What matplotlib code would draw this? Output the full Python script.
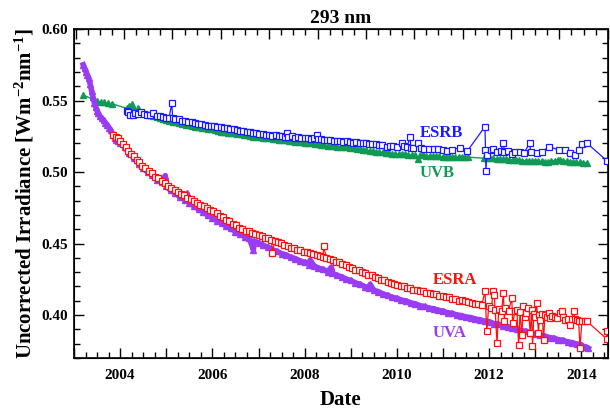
import matplotlib
matplotlib.use('Agg')
import matplotlib.pyplot as plt
from matplotlib.ticker import MultipleLocator, FuncFormatter

# UVA channel (purple triangles)
uva_year = [2003.20, 2003.23, 2003.26, 2003.29, 2003.32, 2003.35, 2003.38, 2003.41, 2003.44, 2003.47,
            2003.50, 2003.53, 2003.56, 2003.60, 2003.64, 2003.68, 2003.72, 2003.76, 2003.80, 2003.84,
            2003.88, 2003.92, 2003.96, 2004.0, 2004.1, 2004.2, 2004.3, 2004.4, 2004.5, 2004.6,
            2004.7, 2004.8, 2004.9, 2004.98, 2005.0, 2005.1, 2005.2, 2005.3, 2005.4, 2005.45,
            2005.5, 2005.6, 2005.7, 2005.8, 2005.9, 2006.0, 2006.1, 2006.2, 2006.3, 2006.4,
            2006.5, 2006.6, 2006.7, 2006.8, 2006.89, 2006.9, 2007.0, 2007.1, 2007.2, 2007.3,
            2007.4, 2007.5, 2007.6, 2007.7, 2007.8, 2007.9, 2008.0, 2008.1, 2008.12, 2008.2,
            2008.3, 2008.4, 2008.5, 2008.58, 2008.6, 2008.7, 2008.8, 2008.9, 2009.0, 2009.1,
            2009.2, 2009.3, 2009.4, 2009.42, 2009.5, 2009.6, 2009.7, 2009.8, 2009.9, 2010.0,
            2010.1, 2010.2, 2010.3, 2010.4, 2010.5, 2010.6, 2010.7, 2010.8, 2010.9, 2011.0,
            2011.1, 2011.2, 2011.3, 2011.4, 2011.5, 2011.6, 2011.7, 2011.8, 2011.9, 2012.0,
            2012.1, 2012.2, 2012.3, 2012.4, 2012.5, 2012.6, 2012.7, 2012.8, 2012.9, 2013.0,
            2013.1, 2013.2, 2013.3, 2013.4, 2013.5, 2013.6, 2013.7, 2013.8, 2013.9, 2014.0,
            2014.05, 2014.1, 2014.15]
uva_val = [0.5750, 0.5725, 0.5700, 0.5680, 0.5655, 0.5615, 0.5570, 0.5525, 0.5485, 0.5455,
           0.5430, 0.5410, 0.5392, 0.5375, 0.5362, 0.5345, 0.5330, 0.5310, 0.5292, 0.5262,
           0.5240, 0.5222, 0.5215, 0.5205, 0.5172, 0.5131, 0.5099, 0.5058, 0.5027, 0.4998,
           0.4979, 0.4946, 0.4930, 0.4975, 0.4899, 0.4871, 0.4852, 0.4824, 0.4807, 0.4850,
           0.4781, 0.4765, 0.4739, 0.4723, 0.4698, 0.4682, 0.4658, 0.4645, 0.4621, 0.4606,
           0.4583, 0.4568, 0.4547, 0.4536, 0.4456, 0.4517, 0.4506, 0.4487, 0.4476, 0.4457,
           0.4446, 0.4429, 0.4420, 0.4404, 0.4395, 0.4378, 0.4370, 0.4353, 0.4385, 0.4345,
           0.4328, 0.4320, 0.4303, 0.4335, 0.4294, 0.4277, 0.4268, 0.4251, 0.4242, 0.4225,
           0.4216, 0.4199, 0.4190, 0.4215, 0.4173, 0.4164, 0.4147, 0.4138, 0.4123, 0.4118,
           0.4104, 0.4099, 0.4085, 0.4079, 0.4066, 0.4060, 0.4048, 0.4044, 0.4032, 0.4028,
           0.4016, 0.4012, 0.4000, 0.3997, 0.3986, 0.3983, 0.3972, 0.3968, 0.3957, 0.3954,
           0.3941, 0.3937, 0.3924, 0.3920, 0.3908, 0.3903, 0.3891, 0.3887, 0.3874, 0.3870,
           0.3858, 0.3855, 0.3843, 0.3839, 0.3828, 0.3824, 0.3812, 0.3808, 0.3796, 0.3792,
           0.3780, 0.3776, 0.3768]

# ESRA channel (red open squares)
esra_year = [2003.85, 2003.90, 2003.95, 2004.00, 2004.06, 2004.12, 2004.18, 2004.24, 2004.30, 2004.36,
             2004.42, 2004.48, 2004.55, 2004.62, 2004.69, 2004.76, 2004.83, 2004.90, 2004.97, 2005.04,
             2005.11, 2005.18, 2005.25, 2005.32, 2005.39, 2005.46, 2005.53, 2005.60, 2005.67, 2005.74,
             2005.81, 2005.88, 2005.95, 2006.02, 2006.09, 2006.16, 2006.23, 2006.30, 2006.37, 2006.44,
             2006.51, 2006.58, 2006.65, 2006.72, 2006.79, 2006.86, 2006.93, 2007.00, 2007.07, 2007.14,
             2007.21, 2007.28, 2007.30, 2007.35, 2007.42, 2007.49, 2007.56, 2007.63, 2007.70, 2007.77,
             2007.84, 2007.91, 2007.98, 2008.05, 2008.12, 2008.19, 2008.26, 2008.33, 2008.40, 2008.41,
             2008.47, 2008.54, 2008.61, 2008.68, 2008.75, 2008.82, 2008.89, 2008.96, 2009.03, 2009.10,
             2009.17, 2009.24, 2009.31, 2009.38, 2009.45, 2009.52, 2009.59, 2009.66, 2009.73, 2009.80,
             2009.87, 2009.94, 2010.01, 2010.08, 2010.15, 2010.22, 2010.29, 2010.36, 2010.43, 2010.50,
             2010.57, 2010.64, 2010.71, 2010.78, 2010.85, 2010.92, 2010.99, 2011.06, 2011.13, 2011.20,
             2011.27, 2011.34, 2011.41, 2011.48, 2011.55, 2011.62, 2011.69, 2011.76, 2011.84, 2011.91,
             2011.95, 2011.99, 2012.05, 2012.09, 2012.11, 2012.13, 2012.17, 2012.21, 2012.27, 2012.31,
             2012.33, 2012.35, 2012.42, 2012.49, 2012.51, 2012.56, 2012.60, 2012.64, 2012.67, 2012.71,
             2012.74, 2012.78, 2012.81, 2012.85, 2012.89, 2012.92, 2012.94, 2012.97, 2012.99, 2013.03,
             2013.07, 2013.09, 2013.11, 2013.15, 2013.18, 2013.21, 2013.25, 2013.29, 2013.32, 2013.37,
             2013.43, 2013.48, 2013.54, 2013.57, 2013.61, 2013.65, 2013.70, 2013.76, 2013.80, 2013.83,
             2013.87, 2013.90, 2013.94, 2013.97, 2014.01, 2014.08, 2014.12, 2014.55, 2014.55]
esra_val = [0.5258, 0.5245, 0.5236, 0.5218, 0.5195, 0.5172, 0.5150, 0.5128, 0.5112, 0.5085,
            0.5070, 0.5042, 0.5030, 0.5008, 0.4995, 0.4968, 0.4958, 0.4935, 0.4925, 0.4902,
            0.4890, 0.4872, 0.4862, 0.4845, 0.4838, 0.4818, 0.4810, 0.4795, 0.4782, 0.4771,
            0.4760, 0.4749, 0.4736, 0.4725, 0.4714, 0.4696, 0.4684, 0.4668, 0.4657, 0.4640,
            0.4630, 0.4612, 0.4601, 0.4589, 0.4586, 0.4575, 0.4570, 0.4558, 0.4552, 0.4541,
            0.4536, 0.4524, 0.4435, 0.4520, 0.4510, 0.4504, 0.4492, 0.4484, 0.4470, 0.4466,
            0.4455, 0.4452, 0.4440, 0.4438, 0.4432, 0.4428, 0.4418, 0.4416, 0.4406, 0.4484,
            0.4402, 0.4390, 0.4384, 0.4372, 0.4368, 0.4354, 0.4349, 0.4335, 0.4330, 0.4318,
            0.4314, 0.4300, 0.4296, 0.4283, 0.4278, 0.4264, 0.4260, 0.4246, 0.4242, 0.4228,
            0.4226, 0.4214, 0.4212, 0.4202, 0.4200, 0.4190, 0.4188, 0.4178, 0.4176, 0.4167,
            0.4166, 0.4155, 0.4156, 0.4145, 0.4146, 0.4134, 0.4136, 0.4124, 0.4124, 0.4112,
            0.4113, 0.4100, 0.4102, 0.4095, 0.4090, 0.4084, 0.4080, 0.4075, 0.4070, 0.4165,
            0.3886, 0.4060, 0.4052, 0.4165, 0.4142, 0.4037, 0.3805, 0.4045, 0.4030, 0.4154,
            0.3956, 0.4049, 0.4028, 0.4119, 0.3944, 0.4025, 0.4037, 0.3793, 0.4020, 0.3863,
            0.4060, 0.3990, 0.4015, 0.4049, 0.3875, 0.4037, 0.3781, 0.4005, 0.3990, 0.4084,
            0.3875, 0.4000, 0.3968, 0.4010, 0.3828, 0.4002, 0.3985, 0.4014, 0.3979, 0.3995,
            0.3990, 0.3982, 0.4014, 0.4025, 0.3985, 0.3968, 0.3975, 0.3933, 0.3975, 0.4025,
            0.3970, 0.3968, 0.3956, 0.3770, 0.3956, 0.3956, 0.3956, 0.3833, 0.3886]

# ESRB channel (blue open squares)
esrb_year = [2004.14, 2004.18, 2004.22, 2004.27, 2004.32, 2004.38, 2004.45, 2004.52, 2004.58, 2004.65,
             2004.72, 2004.79, 2004.86, 2004.93, 2005.00, 2005.06, 2005.12, 2005.14, 2005.20, 2005.27,
             2005.34, 2005.41, 2005.48, 2005.55, 2005.62, 2005.69, 2005.76, 2005.83, 2005.90, 2005.97,
             2006.04, 2006.11, 2006.18, 2006.25, 2006.32, 2006.39, 2006.46, 2006.53, 2006.60, 2006.67,
             2006.74, 2006.81, 2006.88, 2006.95, 2007.02, 2007.09, 2007.16, 2007.23, 2007.30, 2007.37,
             2007.44, 2007.51, 2007.58, 2007.61, 2007.65, 2007.72, 2007.79, 2007.86, 2007.93, 2008.00,
             2008.07, 2008.14, 2008.21, 2008.26, 2008.28, 2008.35, 2008.42, 2008.49, 2008.56, 2008.63,
             2008.70, 2008.77, 2008.84, 2008.91, 2008.98, 2009.05, 2009.12, 2009.19, 2009.26, 2009.33,
             2009.40, 2009.47, 2009.54, 2009.61, 2009.68, 2009.78, 2009.85, 2009.92, 2010.00, 2010.11,
             2010.16, 2010.22, 2010.29, 2010.30, 2010.35, 2010.45, 2010.52, 2010.58, 2010.70, 2010.80,
             2010.90, 2011.00, 2011.08, 2011.20, 2011.37, 2011.53, 2011.91, 2011.92, 2011.93, 2011.95,
             2012.05, 2012.09, 2012.17, 2012.25, 2012.31, 2012.33, 2012.40, 2012.49, 2012.56, 2012.66,
             2012.76, 2012.88, 2012.90, 2013.03, 2013.15, 2013.29, 2013.51, 2013.65, 2013.76, 2013.87,
             2013.94, 2014.02, 2014.12, 2014.55]
esrb_val = [0.5425, 0.5418, 0.5400, 0.5398, 0.5412, 0.5408, 0.5418, 0.5405, 0.5398, 0.5400,
            0.5411, 0.5392, 0.5394, 0.5385, 0.5380, 0.5378, 0.5481, 0.5380, 0.5372, 0.5368,
            0.5360, 0.5355, 0.5352, 0.5350, 0.5342, 0.5338, 0.5333, 0.5330, 0.5325, 0.5322,
            0.5320, 0.5315, 0.5313, 0.5310, 0.5305, 0.5302, 0.5298, 0.5295, 0.5288, 0.5285,
            0.5280, 0.5278, 0.5271, 0.5272, 0.5265, 0.5268, 0.5262, 0.5258, 0.5255, 0.5262,
            0.5250, 0.5252, 0.5248, 0.5270, 0.5245, 0.5250, 0.5240, 0.5242, 0.5238, 0.5235,
            0.5240, 0.5232, 0.5235, 0.5260, 0.5230, 0.5228, 0.5225, 0.5222, 0.5224, 0.5218,
            0.5220, 0.5215, 0.5212, 0.5214, 0.5208, 0.5205, 0.5210, 0.5203, 0.5200, 0.5205,
            0.5198, 0.5195, 0.5199, 0.5192, 0.5190, 0.5178, 0.5185, 0.5182, 0.5175, 0.5206,
            0.5185, 0.5175, 0.5248, 0.5170, 0.5167, 0.5202, 0.5170, 0.5160, 0.5162, 0.5158,
            0.5160, 0.5152, 0.5148, 0.5155, 0.5171, 0.5148, 0.5318, 0.5152, 0.5010, 0.5120,
            0.5155, 0.5162, 0.5139, 0.5150, 0.5206, 0.5143, 0.5150, 0.5127, 0.5140, 0.5138,
            0.5135, 0.5202, 0.5140, 0.5136, 0.5140, 0.5178, 0.5155, 0.5152, 0.5132, 0.5120,
            0.5155, 0.5195, 0.5202, 0.5080]

# UVB channel (green triangles)
uvb_year = [2003.20, 2003.50, 2003.58, 2003.66, 2003.74, 2003.82, 2004.14, 2004.20, 2004.25, 2004.29,
            2004.33, 2004.38, 2004.44, 2004.51, 2004.58, 2004.65, 2004.72, 2004.79, 2004.86, 2004.93,
            2005.00, 2005.07, 2005.14, 2005.21, 2005.28, 2005.35, 2005.42, 2005.49, 2005.56, 2005.63,
            2005.70, 2005.77, 2005.84, 2005.91, 2005.98, 2006.05, 2006.12, 2006.19, 2006.26, 2006.33,
            2006.40, 2006.47, 2006.54, 2006.61, 2006.68, 2006.75, 2006.82, 2006.89, 2006.96, 2007.03,
            2007.10, 2007.17, 2007.24, 2007.31, 2007.38, 2007.45, 2007.52, 2007.59, 2007.66, 2007.73,
            2007.80, 2007.87, 2007.94, 2008.01, 2008.08, 2008.15, 2008.22, 2008.29, 2008.36, 2008.43,
            2008.50, 2008.57, 2008.64, 2008.71, 2008.78, 2008.85, 2008.92, 2008.99, 2009.06, 2009.13,
            2009.20, 2009.27, 2009.34, 2009.41, 2009.48, 2009.55, 2009.62, 2009.69, 2009.76, 2009.83,
            2009.90, 2009.97, 2010.04, 2010.11, 2010.18, 2010.25, 2010.32, 2010.39, 2010.45, 2010.50,
            2010.57, 2010.64, 2010.71, 2010.78, 2010.85, 2010.92, 2010.99, 2011.06, 2011.13, 2011.20,
            2011.27, 2011.34, 2011.41, 2011.48, 2011.55, 2011.88, 2011.95, 2012.02, 2012.09, 2012.16,
            2012.23, 2012.30, 2012.37, 2012.44, 2012.51, 2012.58, 2012.65, 2012.72, 2012.79, 2012.86,
            2012.93, 2013.00, 2013.07, 2013.14, 2013.21, 2013.28, 2013.35, 2013.42, 2013.49, 2013.54,
            2013.61, 2013.68, 2013.75, 2013.82, 2013.89, 2013.96, 2014.03, 2014.12]
uvb_val = [0.5539, 0.5495, 0.5490, 0.5487, 0.5482, 0.5478, 0.5446, 0.5460, 0.5478, 0.5440,
           0.5435, 0.5445, 0.5420, 0.5412, 0.5405, 0.5398, 0.5392, 0.5385, 0.5378, 0.5372,
           0.5365, 0.5360, 0.5352, 0.5348, 0.5342, 0.5337, 0.5331, 0.5328, 0.5322, 0.5318,
           0.5314, 0.5310, 0.5306, 0.5301, 0.5298, 0.5292, 0.5288, 0.5283, 0.5279, 0.5276,
           0.5272, 0.5270, 0.5266, 0.5263, 0.5259, 0.5256, 0.5252, 0.5248, 0.5245, 0.5243,
           0.5240, 0.5237, 0.5235, 0.5232, 0.5229, 0.5227, 0.5224, 0.5221, 0.5218, 0.5216,
           0.5213, 0.5211, 0.5208, 0.5205, 0.5202, 0.5200, 0.5196, 0.5193, 0.5190, 0.5188,
           0.5185, 0.5183, 0.5181, 0.5178, 0.5176, 0.5174, 0.5172, 0.5169, 0.5167, 0.5164,
           0.5160, 0.5157, 0.5153, 0.5150, 0.5146, 0.5143, 0.5140, 0.5137, 0.5133, 0.5130,
           0.5128, 0.5127, 0.5125, 0.5124, 0.5123, 0.5122, 0.5120, 0.5119, 0.5090, 0.5118,
           0.5116, 0.5115, 0.5113, 0.5112, 0.5110, 0.5109, 0.5107, 0.5105, 0.5105, 0.5104,
           0.5104, 0.5103, 0.5104, 0.5103, 0.5104, 0.5097, 0.5098, 0.5096, 0.5095, 0.5093,
           0.5092, 0.5090, 0.5088, 0.5087, 0.5085, 0.5083, 0.5082, 0.5080, 0.5079, 0.5078,
           0.5077, 0.5076, 0.5075, 0.5074, 0.5073, 0.5073, 0.5076, 0.5080, 0.5084, 0.5087,
           0.5080, 0.5075, 0.5071, 0.5069, 0.5068, 0.5067, 0.5066, 0.5066]

c_uva = '#9b3cf5'
c_esra = '#ff1010'
c_esrb = '#1a1aff'
c_uvb = '#109a55'

plt.rcParams['font.family'] = 'Liberation Serif'
plt.rcParams['font.weight'] = 'bold'
plt.rcParams['axes.labelweight'] = 'bold'
plt.rcParams['axes.titleweight'] = 'bold'
plt.rcParams['mathtext.fontset'] = 'custom'
plt.rcParams['mathtext.rm'] = 'Liberation Serif:bold'
plt.rcParams['mathtext.it'] = 'Liberation Serif:bold'
plt.rcParams['mathtext.bf'] = 'Liberation Serif:bold'
plt.rcParams['mathtext.default'] = 'rm'

fig = plt.figure(figsize=(6.1, 4.11), dpi=100)
ax = fig.add_axes([0.1213, 0.129, 0.8749, 0.8004])

ax.plot(uvb_year, uvb_val, '-^', color=c_uvb, lw=1.0, ms=3.8, mec=c_uvb, zorder=2)
ax.plot(esrb_year, esrb_val, '-s', color=c_esrb, lw=0.9, ms=3.8, mfc='white', mec=c_esrb, mew=0.9, zorder=3)
ax.plot(uva_year, uva_val, '-^', color=c_uva, lw=4, ms=4.8, mec=c_uva, zorder=4)
ax.plot(esra_year, esra_val, '-s', color=c_esra, lw=0.9, ms=4.0, mfc='white', mec=c_esra, mew=0.9, zorder=5)

ax.text(2010.96, 0.5274, 'ESRB', color=c_esrb, fontsize=12, fontweight='bold', ha='center', va='center')
ax.text(2010.87, 0.4991, 'UVB', color=c_uvb, fontsize=12, fontweight='bold', ha='center', va='center')
ax.text(2011.26, 0.4247, 'ESRA', color=c_esra, fontsize=12, fontweight='bold', ha='center', va='center')
ax.text(2011.15, 0.3877, 'UVA', color=c_uva, fontsize=12, fontweight='bold', ha='center', va='center')

ax.set_xlim(2003.0, 2014.57)
ax.set_ylim(0.37, 0.60)
ax.xaxis.set_major_locator(MultipleLocator(1))
ax.xaxis.set_minor_locator(MultipleLocator(0.25))
ax.xaxis.set_major_formatter(FuncFormatter(lambda v, p: '%d' % v if int(round(v)) % 2 == 0 else ''))
ax.yaxis.set_major_locator(MultipleLocator(0.05))
ax.yaxis.set_minor_locator(MultipleLocator(0.01))
ax.yaxis.set_major_formatter(FuncFormatter(lambda v, p: '%.2f' % v))
ax.tick_params(which='both', direction='in', right=True, width=1.0, labelsize=11)
ax.tick_params(which='major', length=7)
ax.tick_params(which='minor', length=4)
ax.tick_params(axis='x', pad=8)
ax.tick_params(axis='y', pad=4)
for lbl in ax.get_xticklabels() + ax.get_yticklabels():
    lbl.set_fontweight('bold')
for s in ax.spines.values():
    s.set_linewidth(1.2)

# top axis has its own tick spacing, no labels
top = ax.twiny()
top.set_xlim(-0.035, 11.0)
top.xaxis.set_major_locator(MultipleLocator(1))
top.xaxis.set_minor_locator(MultipleLocator(0.25))
top.tick_params(which='both', direction='in', labeltop=False, width=1.0)
top.tick_params(which='major', length=7)
top.tick_params(which='minor', length=4)

ax.set_xlabel('Date', fontsize=15, fontweight='bold', labelpad=6)
ax.set_ylabel('Uncorrected Irradiance [Wm$^{-2}$nm$^{-1}$]', fontsize=15, fontweight='bold', labelpad=4)
ax.set_title('293 nm', fontsize=14, fontweight='bold', pad=4)

fig.savefig('out.png', dpi=100)
